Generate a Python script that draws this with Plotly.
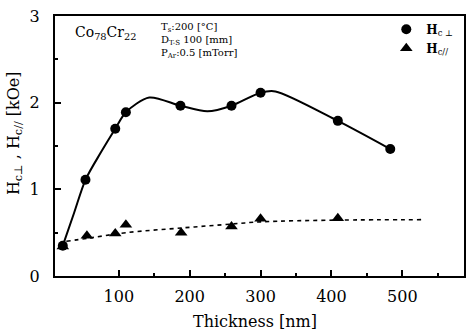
import plotly.graph_objects as go

# Data
thick_perp = [21, 53, 95, 110, 187, 259, 300, 409, 483]
hc_perp = [0.35, 1.11, 1.70, 1.89, 1.965, 1.965, 2.115, 1.79, 1.465]

thick_par = [21, 55, 95, 110, 188, 259, 300, 409]
hc_par = [0.34, 0.465, 0.49, 0.59, 0.50, 0.57, 0.66, 0.665]

# smooth guide curves
curve_perp_x = [21, 37, 53, 75, 95, 110, 143, 187, 225, 259, 300, 321, 409, 483]
curve_perp_y = [0.35, 0.73, 1.11, 1.43, 1.70, 1.89, 2.06, 1.965, 1.90, 1.965, 2.115, 2.13, 1.79, 1.465]

curve_par_x = [26, 60, 110, 190, 260, 300, 410, 530]
curve_par_y = [0.40, 0.44, 0.50, 0.555, 0.60, 0.625, 0.645, 0.65]

x_ticks = [100, 200, 300, 400, 500]
y_ticks = [0, 1, 2, 3]

cond_lines = ["T<sub>s</sub>:200 [°C]", "D<sub>T-S</sub> 100 [mm]", "P<sub>Ar</sub>:0.5 [mTorr]"]

SERIF = "DejaVu Serif"

fig = go.Figure()
fig.add_trace(go.Scatter(x=curve_perp_x, y=curve_perp_y, mode="lines",
                         line=dict(color="black", width=2, shape="spline", smoothing=0.8),
                         showlegend=False, hoverinfo="skip"))
fig.add_trace(go.Scatter(x=curve_par_x, y=curve_par_y, mode="lines",
                         line=dict(color="black", width=1.6, dash="4px,4px", shape="spline", smoothing=1.0),
                         showlegend=False, hoverinfo="skip"))
fig.add_trace(go.Scatter(x=thick_perp, y=hc_perp, mode="markers",
                         marker=dict(symbol="circle", size=10, color="black"),
                         name="<b>H</b><sub>c ⊥</sub>"))
fig.add_trace(go.Scatter(x=thick_par, y=hc_par, mode="markers",
                         marker=dict(symbol="triangle-up", size=11, color="black"),
                         name="<b>H</b><sub>c//</sub>"))

axis_common = dict(showline=True, linecolor="black", linewidth=2, mirror=True,
                   ticks="inside", ticklen=6, tickwidth=1.5, tickcolor="black",
                   showgrid=False, zeroline=False,
                   tickfont=dict(family=SERIF, size=16, color="black"))

fig.update_xaxes(range=[10, 587], tickvals=x_ticks, ticklabelstandoff=5,
                 minor=dict(tickvals=[150, 250, 350, 450, 550], ticks="inside", ticklen=3, tickcolor="black"),
                 **axis_common)
fig.update_yaxes(range=[0, 3], tickvals=y_ticks, ticklabelstandoff=10,
                 minor=dict(tickvals=[0.5, 1.5, 2.5], ticks="inside", ticklen=3, tickcolor="black"),
                 **axis_common)

# axis titles
fig.add_annotation(x=0.49, y=-0.175, xref="paper", yref="paper", xanchor="center", yanchor="middle",
                   text="Thickness [nm]", showarrow=False,
                   font=dict(family=SERIF, size=16, color="black"))
fig.add_annotation(x=-0.1, y=0.55, xref="paper", yref="paper", xanchor="center", yanchor="middle",
                   text="H<sub>c⊥</sub> , H<sub>c//</sub> [kOe]", showarrow=False, textangle=-90,
                   font=dict(family=SERIF, size=16, color="black"))

fig.add_annotation(x=0.045, y=0.935, xref="paper", yref="paper", xanchor="left", yanchor="middle",
                   text="Co<sub>78</sub>Cr<sub>22</sub>", showarrow=False,
                   font=dict(family=SERIF, size=14, color="black"))
fig.add_annotation(x=0.255, y=0.905, xref="paper", yref="paper", xanchor="left", yanchor="middle",
                   text="<br>".join(cond_lines), showarrow=False, align="left",
                   font=dict(family=SERIF, size=10, color="black"))

fig.update_layout(
    width=469, height=331,
    margin=dict(l=55, r=3, t=16, b=55),
    paper_bgcolor="white", plot_bgcolor="white",
    font=dict(family=SERIF, color="black"),
    legend=dict(x=0.81, y=1.005, xanchor="left", yanchor="top",
                font=dict(family=SERIF, size=12, color="black"),
                bgcolor="rgba(0,0,0,0)", tracegroupgap=0, itemwidth=30),
)

fig.write_html("out.html")
